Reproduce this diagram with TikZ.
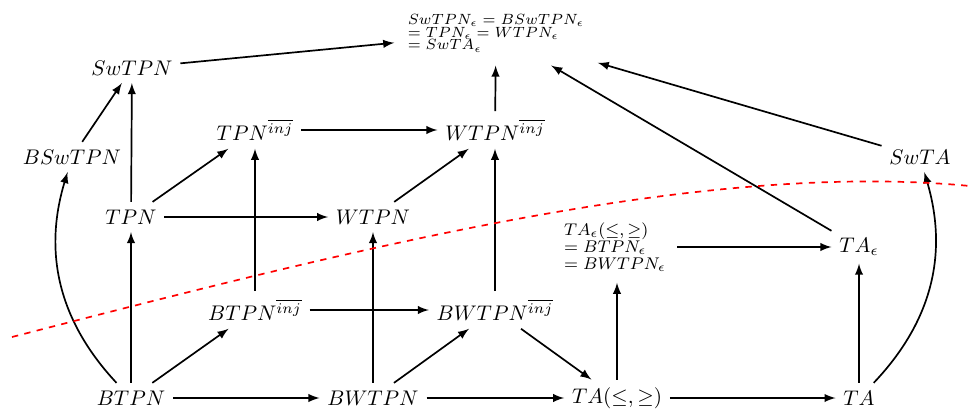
\documentclass[tikz,border=0pt]{standalone}
\begin{document}
\begin{tikzpicture}[x=0.0166cm, y=-0.0166cm, >=latex, thick]
        \useasboundingbox (0,0) rectangle (970,408);

        % Nodi in basso
        \node (btpn) at (131,398) {$BTPN$};
        \node (bwtpn) at (373,398) {$BWTPN$};
        \node (tale) at (617,398) {$TA(\leq,\geq)$};
        \node (ta) at (859,398) {$TA$};

        % Nodi intermedi
        \node (btpninj) at (255,310) {$BTPN^{\overline{inj}}$};
        \node (bwtpninj) at (495,310) {$BWTPN^{\overline{inj}}$};
        \node (tpn) at (131,217) {$TPN$};
        \node (wtpn) at (373,217) {$WTPN$};
        \node (tpninj) at (255,130) {$TPN^{\overline{inj}}$};
        \node (wtpninj) at (495,130) {$WTPN^{\overline{inj}}$};
        \node (swtpn) at (132,68) {$SwTPN$};
        \node (bswtpn) at (72,157) {$BSwTPN$};
        \node (swta) at (920,157) {$SwTA$};
        \node (taeps) at (859,247) {$TA_\epsilon$};

        % Blocchi con le uguaglianze
        \node[align=left, font=\footnotesize, inner sep=5pt] (taleeps) at (615,247)
        {$TA_\epsilon(\leq,\geq)$\\[-1.5pt] $= BTPN_\epsilon$\\[-1.5pt] $= BWTPN_\epsilon$};
        \node[align=left, font=\scriptsize, inner sep=6pt] (eps) at (496,33)
        {$SwTPN_\epsilon = BSwTPN_\epsilon$\\[-1.9pt] $= TPN_\epsilon = WTPN_\epsilon$\\[-1.9pt] $= SwTA_\epsilon$};

        % Frecce
        \draw[->] (btpn) -- (bwtpn);
        \draw[->] (bwtpn) -- (tale);
        \draw[->] (tale) -- (ta);
        \draw[->] (btpn) -- (tpn);
        \draw[->] (btpn) -- (btpninj);
        \draw[->] (btpn) to[bend left=30] (bswtpn);
        \draw[->] (bwtpn) -- (wtpn);
        \draw[->] (bwtpn) -- (bwtpninj);
        \draw[->] (bwtpninj) -- (tale);
        \draw[->] (tale) -- (tale |- taleeps.south);
        \draw[->] (ta) -- (taeps);
        \draw[->] (ta) to[bend right=30] (swta);
        \draw[->] (taleeps) -- (taeps);
        \draw[->] (taeps) -- (eps);
        \draw[->] (swta) -- (eps);
        \draw[->] (tpn) -- (wtpn);
        \draw[->] (tpn) -- (tpninj);
        \draw[->] (tpn) -- (swtpn);
        \draw[->] (btpninj) -- (bwtpninj);
        \draw[->] (btpninj) -- (tpninj);
        \draw[->] (bwtpninj) -- (wtpninj);
        \draw[->] (wtpn) -- (wtpninj);
        \draw[->] (tpninj) -- (wtpninj);
        \draw[->] (wtpninj) -- (eps);
        \draw[->] (swtpn) -- (eps);
        \draw[->] (bswtpn) -- (swtpn);

        % Linea rossa tratteggiata
        \draw[red, dashed] (12,337) .. controls (350,250) and (700,160) .. (970,186);
\end{tikzpicture}
\end{document}
